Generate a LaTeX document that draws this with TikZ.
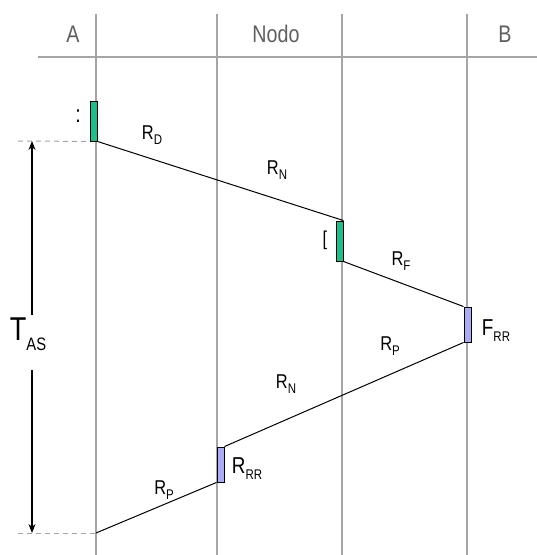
\documentclass[tikz,border=0pt]{standalone}
\usepackage{fontspec}
\setmainfont{Liberation Sans}
\newfontfamily\nsans[FakeStretch=0.82]{Liberation Sans}
\usetikzlibrary{arrows.meta}
\definecolor{gridc}{RGB}{165,165,165}
\definecolor{headc}{RGB}{95,95,95}
\definecolor{grn}{RGB}{30,190,140}
\definecolor{blu}{RGB}{172,172,245}
\newcommand{\rl}[2]{#1\raisebox{-0.5ex}{\fontsize{14}{14}\selectfont #2}}
\tikzset{
  gridline/.style={draw=gridc, line width=1.2pt},
  head/.style={text=headc, font=\nsans\fontsize{24}{24}\selectfont, inner sep=0pt},
  gbox/.style={draw=black, fill=grn, line width=0.9pt, minimum width=7pt, inner sep=0pt},
  bbox/.style={draw=black, fill=blu, line width=0.9pt, minimum width=7pt, inner sep=0pt},
  sig/.style={draw=black, line width=1pt},
  lab/.style={font=\nsans\fontsize{20}{20}\selectfont, inner sep=0pt, text=black},
  guide/.style={draw=gridc, line width=1pt, dash pattern=on 5pt off 4pt},
  dim/.style={draw=black, line width=1.1pt, -{Stealth[length=9pt,width=7pt]}}
}
\begin{document}
\begin{tikzpicture}[x=1pt,y=-1pt]
\useasboundingbox (0,0) rectangle (537,555);
% grid
\draw[gridline] (38,57) -- (537,57);
\foreach \xx in {96,217,342,467} {\draw[gridline] (\xx,14) -- (\xx,555);}
% header
\node[head] (hA) at (73,34) {A};
\node[head] (hN) at (276,34) {Nodo};
\node[head] (hB) at (505,34) {B};
% boxes
\node[gbox, minimum height=40pt] (ga) at (93.5,121) {};
\node[gbox, minimum height=40pt] (gn) at (339.5,241) {};
\node[bbox, minimum height=35pt] (bb) at (467.5,324.5) {};
\node[bbox, minimum height=35pt] (bn) at (220.5,464.5) {};
\coordinate (endA) at (96,533);
% signal lines
\draw[sig] (ga.south east) -- (gn.north east);
\draw[sig] (gn.south east) -- (bb.north west);
\draw[sig] (bb.south west) -- (bn.north east);
\draw[sig] (bn.south west) -- (endA);
% guides
\coordinate (gt) at (18,141);
\coordinate (gb) at (18,533);
\draw[guide] (gt) -- (ga.south west);
\draw[guide] (gb) -- (endA);
% T_AS
\node[font=\nsans\fontsize{33}{33}\selectfont, inner sep=0pt] (tas) at (28,334) {T\raisebox{-0.55ex}{\fontsize{18}{18}\selectfont AS}};
\coordinate (at) at (32,141);
\coordinate (ab) at (32,533);
\draw[dim] (32,315) -- (at);
\draw[dim] (32,370) -- (ab);
% labels
\node[lab, font=\nsans\fontsize{24}{24}\selectfont] (l1) at (78,116) {:};
\node[lab] (l2) at (152,135) {\rl{R}{D}};
\node[lab] (l3) at (277,170) {\rl{R}{N}};
\node[lab] (l4) at (325,240) {[};
\node[lab] (l5) at (401,261) {\rl{R}{F}};
\node[lab, font=\nsans\fontsize{23}{23}\selectfont] (l6) at (496,331) {\rl{F}{RR}};
\node[lab] (l7) at (390,346) {\rl{R}{P}};
\node[lab] (l8) at (286,384) {\rl{R}{N}};
\node[lab, font=\nsans\fontsize{23}{23}\selectfont] (l9) at (247,469) {\rl{R}{RR}};
\node[lab] (l10) at (164,490) {\rl{R}{P}};
\end{tikzpicture}
\end{document}
